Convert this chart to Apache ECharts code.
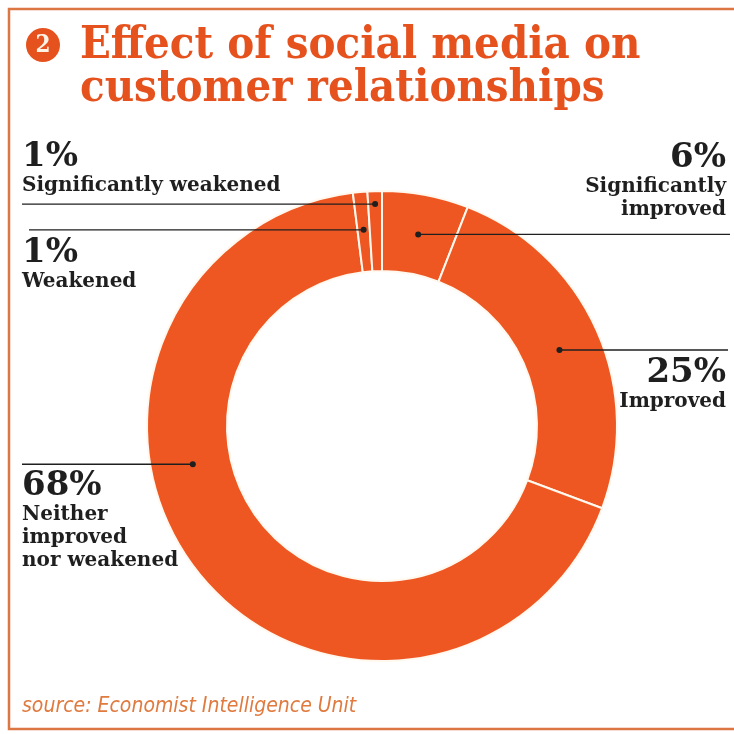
<!DOCTYPE html>
<html>
<head>
<meta charset="utf-8">
<script src="https://cdn.jsdelivr.net/npm/echarts@6/dist/echarts.min.js"></script>
<style>
  html, body { margin: 0; padding: 0; background: #ffffff; }
  #chart { width: 734px; height: 734px; }
</style>
</head>
<body>
<div id="chart"></div>
<script>
// Survey answers, clockwise from twelve o'clock
const categories = ['Significantly improved', 'Improved', 'Neither improved nor weakened', 'Weakened', 'Significantly weakened'];
const shares = [6, 25, 68, 1, 1];
const labelNames = ['Significantly\nimproved', 'Improved', 'Neither\nimproved\nnor weakened', 'Weakened', 'Significantly weakened'];

const titleLines = ['Effect of social media on', 'customer relationships'];
const badgeText = '2';
const sourceText = 'source: Economist Intelligence Unit';

// Layout
const CENTER = [382, 426];
const R_IN = 155, R_OUT = 235;
const ORANGE = '#ef5722';
const TITLE_ORANGE = '#e6521e';
const INK = '#1f1f1f';
const TITLE_FONT = '"DejaVu Serif Condensed", "DejaVu Serif", serif';
const LABEL_FONT = '"DejaVu Serif", serif';

// Where each leader line starts inside its slice and how its text sits
// frac: position along the slice arc, r: radius of the dot,
// edge: x where the text aligns, lineEnd: x where the line stops, gap: space between line and text
const leaders = [
  { frac: 0.5,  r: 195, side: 'right', edge: 728, lineEnd: 730, above: true,  gap: 13 },
  { frac: 0.51, r: 193, side: 'right', edge: 728, lineEnd: 728, above: false, gap: 6 },
  { frac: 0.611, r: 193, side: 'left', edge: 22, lineEnd: 22, above: false, gap: 5 },
  { frac: 0.5,  r: 197, side: 'left', edge: 22, lineEnd: 29, above: false, gap: 6 },
  { frac: 0.5,  r: 222, side: 'left', edge: 22, lineEnd: 22, above: true,  gap: 7 }
];

const chart = echarts.init(document.getElementById('chart'), null, { renderer: 'canvas' });

// Slice angles (degrees clockwise from the top) from the shares
const total = shares.reduce((a, b) => a + b, 0);
let acc = 0;
const anchors = shares.map((v, i) => {
  const start = acc / total * 360;
  acc += v;
  const end = acc / total * 360;
  const L = leaders[i];
  const a = (start + (end - start) * L.frac) * Math.PI / 180;
  return [CENTER[0] + L.r * Math.sin(a), CENTER[1] - L.r * Math.cos(a)];
});

const graphics = [];

// Card frame
graphics.push({
  type: 'rect', silent: true, z: 0,
  shape: { x: 9, y: 9, width: 760, height: 720 },
  style: { fill: null, stroke: '#dc7643', lineWidth: 2.5 }
});

// Numbered badge
graphics.push({
  type: 'circle', z: 10,
  shape: { cx: 43, cy: 45, r: 17 },
  style: { fill: TITLE_ORANGE }
});
graphics.push({
  type: 'text', z: 11,
  style: {
    x: 43, y: 46, text: badgeText, align: 'center', verticalAlign: 'middle',
    fill: '#fff3e6', font: 'bold 24px ' + TITLE_FONT
  }
});

// Title
titleLines.forEach((t, k) => {
  graphics.push({
    type: 'text', z: 10,
    style: {
      x: 80, y: 24 + k * 43, text: t, align: 'left', verticalAlign: 'top',
      fill: TITLE_ORANGE, font: 'bold 45px ' + TITLE_FONT
    }
  });
});

// Source note
graphics.push({
  type: 'text', z: 10,
  style: {
    x: 22, y: 696, text: sourceText, align: 'left', verticalAlign: 'top',
    fill: '#e07a3e', font: 'italic 21px "Liberation Sans Narrow", "DejaVu Sans Condensed", sans-serif'
  }
});

// Leader lines, dots and labels
shares.forEach((v, i) => {
  const L = leaders[i];
  const [ax, ay] = anchors[i];
  graphics.push({
    type: 'line', z: 20,
    shape: { x1: ax, y1: ay, x2: L.lineEnd, y2: ay },
    style: { stroke: INK, lineWidth: 1.4 }
  });
  graphics.push({
    type: 'circle', z: 21,
    shape: { cx: ax, cy: ay, r: 3 },
    style: { fill: INK }
  });
  const align = L.side === 'right' ? 'right' : 'left';
  const tx = L.side === 'right' ? L.edge - 2 : L.edge;
  graphics.push({
    type: 'text', z: 20,
    style: {
      x: tx,
      y: L.above ? ay - L.gap : ay + L.gap,
      align: align,
      verticalAlign: L.above ? 'bottom' : 'top',
      text: '{p|' + v + '%}\n' + labelNames[i].split('\n').map(s => '{n|' + s + '}').join('\n'),
      rich: {
        p: { font: 'bold 34px ' + LABEL_FONT, fill: INK, lineHeight: 34, align: align },
        n: { font: 'bold 20px ' + LABEL_FONT, fill: INK, lineHeight: 23, align: align }
      }
    }
  });
});

chart.setOption({
  backgroundColor: '#ffffff',
  animation: false,
  series: [{
    type: 'pie',
    center: CENTER,
    radius: [R_IN, R_OUT],
    startAngle: 90,
    clockwise: true,
    silent: true,
    label: { show: false },
    labelLine: { show: false },
    itemStyle: { color: ORANGE, borderColor: '#fff8ee', borderWidth: 2 },
    data: categories.map((c, i) => ({ name: c, value: shares[i] }))
  }],
  graphic: { elements: graphics }
});
</script>
</body>
</html>
